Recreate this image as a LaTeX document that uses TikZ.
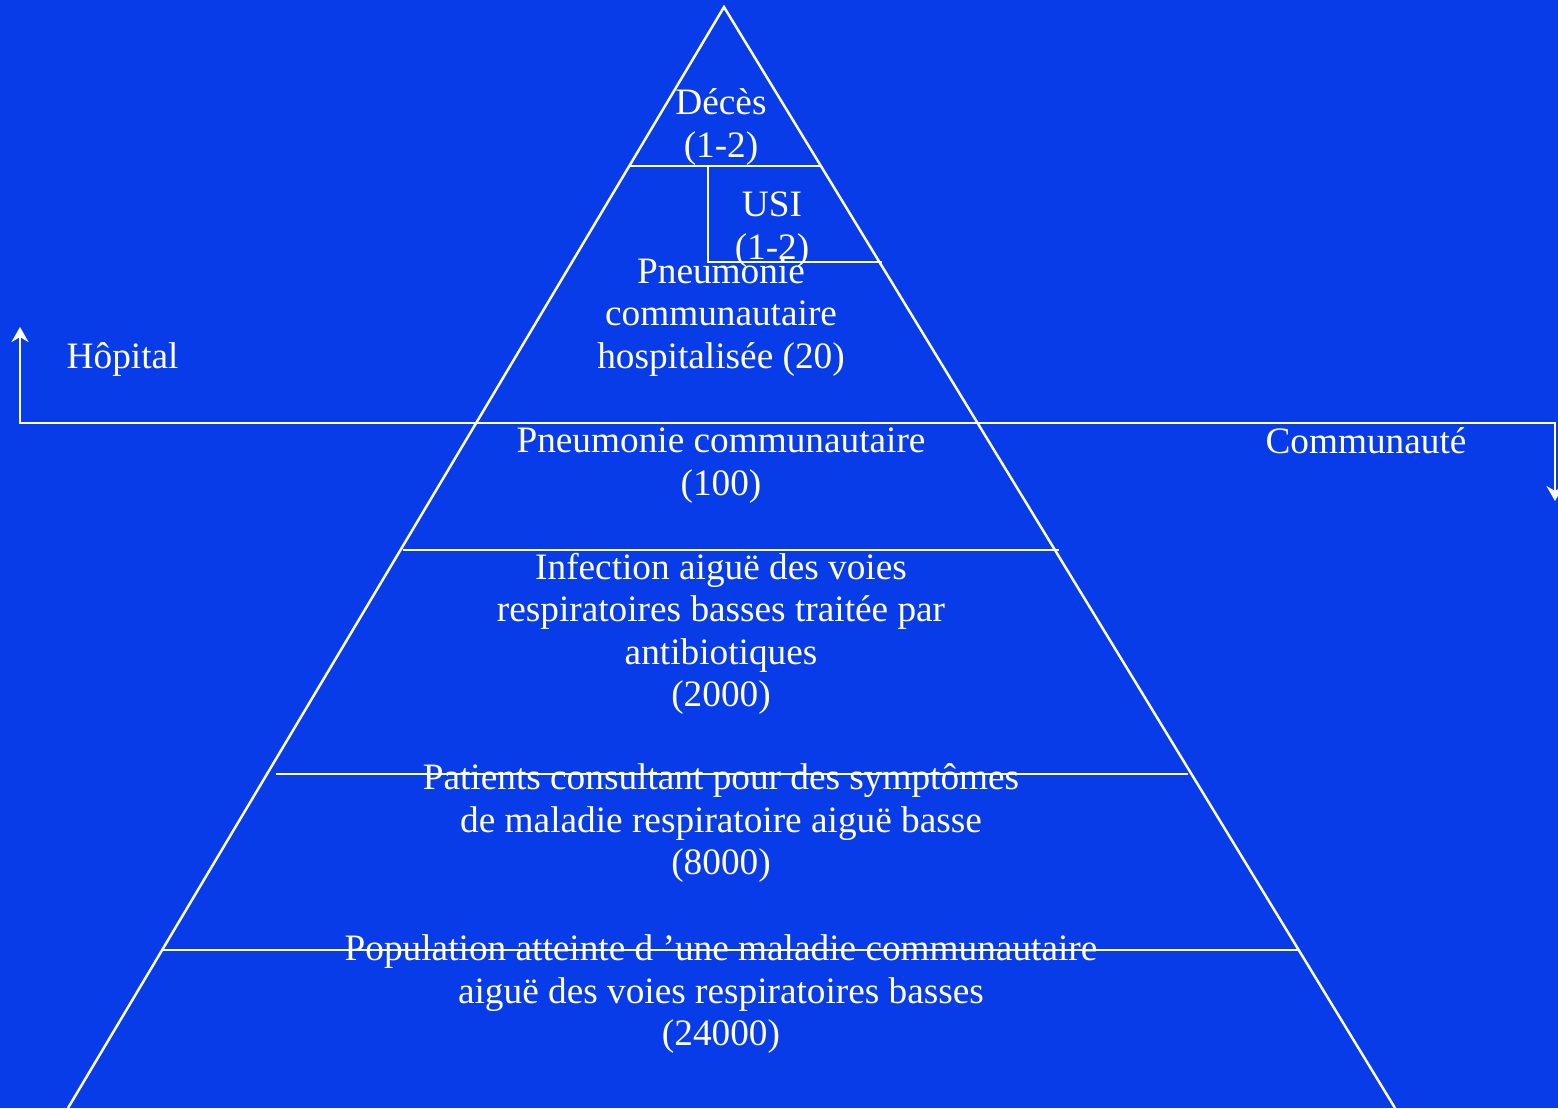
\documentclass[tikz,border=0pt]{standalone}
\usepackage{fontspec}
\setmainfont{Liberation Serif}
\usetikzlibrary{arrows.meta}
\definecolor{bg}{RGB}{8,60,232}
\begin{document}
\begin{tikzpicture}[x=0.01cm,y=-0.01cm,
  lbl/.style={text=white, font=\fontsize{10.6}{11.95}\selectfont, align=center, inner sep=0pt, anchor=base},
  ln/.style={draw=white, line width=0.7pt},
  arr/.style={{Stealth[length=0.15cm,width=0.17cm,inset=0.05cm]}-{Stealth[length=0.15cm,width=0.17cm,inset=0.05cm]}}]
\fill[bg] (0,0) rectangle (1558,1108);
\useasboundingbox (0,0) rectangle (1558,1108);
% pyramid
\coordinate (apex) at (724,7);
\coordinate (bl) at (68,1108);
\coordinate (br) at (1395,1108);
\draw[ln, line join=miter] (bl) -- (apex) -- (br);
% levels
\coordinate (l1a) at (629,166); \coordinate (l1b) at (821,166);
\draw[ln] (l1a) -- (l1b);
\coordinate (u1) at (708,166); \coordinate (u2) at (708,262); \coordinate (u3) at (882,262);
\draw[ln] (u1) -- (u2) -- (u3);
\coordinate (ha) at (20,327); \coordinate (hb) at (20,423);
\coordinate (hc) at (1555,423); \coordinate (hd) at (1555,501);
\draw[ln, arr] (ha) -- (hb) -- (hc) -- (hd);
\coordinate (l3a) at (403,550); \coordinate (l3b) at (1059,550);
\draw[ln] (l3a) -- (l3b);
\coordinate (l4a) at (276,774); \coordinate (l4b) at (1188,774);
\draw[ln] (l4a) -- (l4b);
\coordinate (l5a) at (163,950); \coordinate (l5b) at (1298,950);
\draw[ln] (l5a) -- (l5b);
% labels (anchor = baseline of last line)
\node[lbl] (deces) at (721,157) {Décès\\(1-2)};
\node[lbl] (usi) at (772,259) {USI\\(1-2)};
\node[lbl] (hosp) at (721,368) {Pneumonie\\communautaire\\hospitalisée (20)};
\node[lbl, anchor=base west] (hopital) at (66,368) {Hôpital};
\node[lbl] (pc) at (721,495) {Pneumonie communautaire\\(100)};
\node[lbl] (comm) at (1366,453) {Communauté};
\node[lbl] (inf) at (721,706) {Infection aiguë des voies\\respiratoires basses traitée par\\antibiotiques\\(2000)};
\node[lbl] (pat) at (721,874) {Patients consultant pour des symptômes\\de maladie respiratoire aiguë basse\\(8000)};
\node[lbl] (pop) at (721,1045) {Population atteinte d ’une maladie communautaire\\aiguë des voies respiratoires basses\\(24000)};
\end{tikzpicture}
\end{document}
